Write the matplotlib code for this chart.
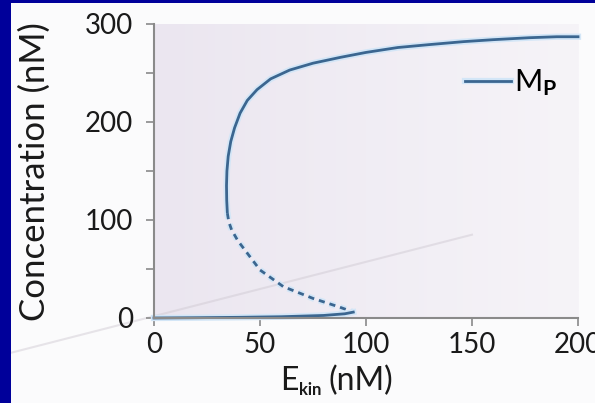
import matplotlib
matplotlib.use("Agg")
import numpy as np
import matplotlib.pyplot as plt
import matplotlib.patheffects as pe
from matplotlib.patches import Rectangle
from matplotlib.ticker import MultipleLocator

plt.rcParams['font.family'] = ['Lato', 'DejaVu Sans']
plt.rcParams['mathtext.fontset'] = 'custom'
plt.rcParams['mathtext.rm'] = 'Lato'
plt.rcParams['mathtext.it'] = 'Lato'
plt.rcParams['mathtext.bf'] = 'Lato:bold'

# steady states of M_P against kinase level
upper_x = [34.6, 34.3, 34.2, 34.4, 35.0, 36.2, 38.0, 40.6, 44.0, 48.6, 55.0, 64.0,
           75.0, 88.0, 100.0, 115.0, 130.0, 146.0, 160.0, 177.0, 190.0, 200.0]
upper_y = [107, 120, 135, 150, 165, 180, 194, 209, 222, 233, 244, 253,
           260, 266, 271, 276, 279, 282, 284, 286, 287, 287]

middle_x = [34.6, 35.3, 36.6, 39.5, 43.0, 50.0, 61.0, 75.0, 87.7, 94.0]
middle_y = [107, 98, 90, 79, 69, 49, 32, 20, 11, 6]

lower_x = [0, 20, 40, 60, 80, 90, 94]
lower_y = [0, 0.3, 0.7, 1.3, 2.6, 4.3, 6.0]

line_col = '#3b6690'
glow = [pe.Stroke(linewidth=4.5, foreground='#d3e6f7'), pe.Normal()]

fig = plt.figure(figsize=(5.95, 4.03), dpi=100)
fig.patch.set_facecolor('#fbfbfc')
fig.patches.append(Rectangle((0, 0), 11 / 595, 1, transform=fig.transFigure,
                             facecolor='#00009a', edgecolor='none', zorder=10))
fig.patches.append(Rectangle((0, 1 - 3 / 403), 1, 3 / 403, transform=fig.transFigure,
                             facecolor='#00009a', edgecolor='none', zorder=10))

ax = fig.add_axes([154 / 595, 85 / 403, 424 / 595, 294 / 403])

# pale lavender wash, fading towards the right
grad = np.linspace(0, 1, 256).reshape(1, -1)
lav = np.array([235, 230, 240]) / 255
pale = np.array([246, 244, 248]) / 255
wash = lav[None, None, :] * (1 - grad[..., None]) + pale[None, None, :] * grad[..., None]
ax.imshow(wash, extent=[0, 200, 0, 300], aspect='auto', zorder=0)

# faint slide watermark stroke
ax.plot([-72, 150], [-38, 85], color='#cdc7d0', lw=1.5, alpha=0.45, zorder=1, clip_on=False)

ax.plot(upper_x, upper_y, color=line_col, lw=2.0, path_effects=glow,
        clip_on=False, label=r'M$_\mathbf{P}$', zorder=3)
ax.plot(middle_x, middle_y, color=line_col, lw=2.0, path_effects=glow,
        clip_on=False, linestyle=(0, (2.2, 1.8)), zorder=3)
ax.plot(lower_x, lower_y, color=line_col, lw=2.0, path_effects=glow,
        clip_on=False, zorder=3)

ax.set_xlim(0, 200)
ax.set_ylim(0, 300)
ax.xaxis.set_major_locator(MultipleLocator(50))
ax.yaxis.set_major_locator(MultipleLocator(100))
ax.yaxis.set_minor_locator(MultipleLocator(50))

for s in ['top', 'right']:
    ax.spines[s].set_visible(False)
for s in ['left', 'bottom']:
    ax.spines[s].set_color('#8a8a8a')
    ax.spines[s].set_linewidth(1.5)
    ax.spines[s].set_zorder(4)

ax.tick_params(axis='both', which='both', direction='out', length=6,
               width=1.2, color='#8a8a8a', labelsize=20, labelcolor='#1a1a1a')
ax.tick_params(axis='y', which='major', pad=9)
ax.tick_params(axis='x', which='major', pad=4)

ax.set_ylabel('Concentration (nM)', fontsize=25, color='#1a1a1a')
ax.yaxis.set_label_coords(-0.243, 0.498)

# x label written in pieces so the subscript can stay small
fig.text(280 / 595, 13 / 403, 'E', fontsize=23, color='#1a1a1a', ha='left', va='baseline')
fig.text(299 / 595, 8 / 403, 'kin', fontsize=12, fontweight='bold', color='#1a1a1a',
         ha='left', va='baseline')
fig.text(393 / 595, 13 / 403, '(nM)', fontsize=23, color='#1a1a1a', ha='right', va='baseline')

ax.legend(loc='upper right', bbox_to_anchor=(0.995, 0.915), frameon=False,
          fontsize=22, handlelength=1.5, handletextpad=0.1, borderaxespad=0.2)

fig.savefig('out.png', dpi=100, facecolor=fig.get_facecolor())
